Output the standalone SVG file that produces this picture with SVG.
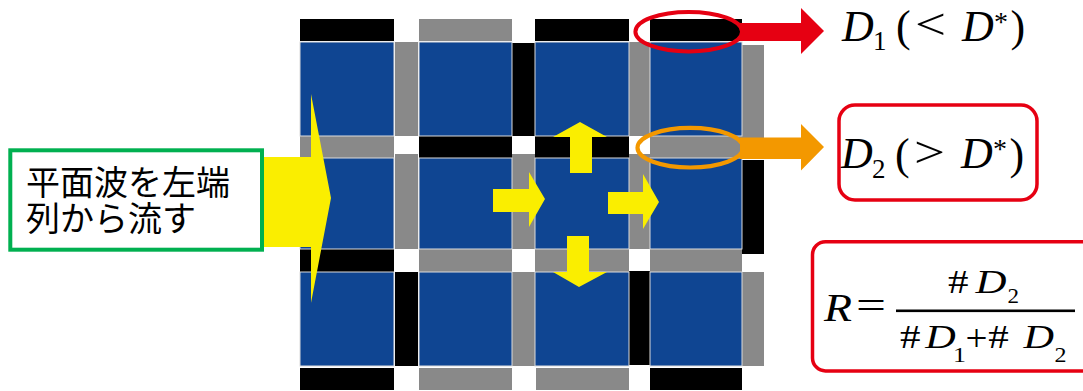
<svg xmlns="http://www.w3.org/2000/svg" width="1083" height="391" viewBox="0 0 1083 391">
<defs>
<style>
.cell{fill:#0f4592;stroke:#dcdcdc;stroke-width:1}
.bk{fill:#000}
.gy{fill:#898989}
.yl{fill:#faee00}
.m{font-family:"Liberation Serif","Times New Roman",serif;fill:#000}
.i{font-style:italic}
.jp{font-family:"Noto Sans CJK JP","Noto Sans",sans-serif;font-size:34px;fill:#000}
</style>
</defs>
<rect width="1083" height="391" fill="#fff"/>
<g id="grid">
  <rect class="bk" x="300" y="19" width="94" height="22"/>
  <rect class="gy" x="419" y="19" width="93" height="22"/>
  <rect class="bk" x="535" y="19" width="94" height="22"/>
  <rect class="bk" x="650" y="19" width="92" height="22"/>
  <rect class="gy" x="300" y="136" width="94" height="22"/>
  <rect class="bk" x="419" y="136" width="93" height="22"/>
  <rect class="bk" x="535" y="136" width="94" height="22"/>
  <rect class="gy" x="650" y="136" width="92" height="22"/>
  <rect class="bk" x="300" y="249" width="94" height="23"/>
  <rect class="gy" x="419" y="249" width="93" height="23"/>
  <rect class="gy" x="535" y="249" width="94" height="23"/>
  <rect class="gy" x="650" y="249" width="92" height="23"/>
  <rect class="bk" x="300" y="368" width="94" height="22"/>
  <rect class="gy" x="419" y="368" width="93" height="22"/>
  <rect class="gy" x="536" y="368" width="93" height="22"/>
  <rect class="bk" x="650" y="368" width="92" height="22"/>
  <rect class="gy" x="395" y="42" width="23" height="94"/>
  <rect class="bk" x="512" y="43" width="23" height="93"/>
  <rect class="gy" x="629" y="42" width="21" height="94"/>
  <rect class="gy" x="742" y="45" width="22" height="93"/>
  <rect class="gy" x="395" y="154" width="23" height="95"/>
  <rect class="gy" x="512" y="154" width="23" height="95"/>
  <rect class="gy" x="629" y="154" width="21" height="95"/>
  <rect class="bk" x="742" y="160" width="22" height="94"/>
  <rect class="bk" x="395" y="272" width="23" height="94"/>
  <rect class="gy" x="512" y="272" width="23" height="94"/>
  <rect class="bk" x="629" y="271" width="21" height="94"/>
  <rect class="gy" x="742" y="272" width="22" height="94"/>
  <rect class="cell" x="300" y="42" width="94" height="94"/>
  <rect class="cell" x="419" y="42" width="93" height="94"/>
  <rect class="cell" x="535" y="42" width="94" height="94"/>
  <rect class="cell" x="650" y="42" width="92" height="94"/>
  <rect class="cell" x="300" y="158" width="94" height="91"/>
  <rect class="cell" x="419" y="158" width="93" height="91"/>
  <rect class="cell" x="535" y="158" width="94" height="91"/>
  <rect class="cell" x="650" y="158" width="92" height="91"/>
  <rect class="cell" x="300" y="272" width="94" height="94"/>
  <rect class="cell" x="419" y="272" width="93" height="94"/>
  <rect class="cell" x="535" y="272" width="94" height="94"/>
  <rect class="cell" x="650" y="272" width="92" height="94"/>
</g>
<g id="connectors">
  <polygon class="yl" points="570,173 570,137 553,137 580,122 607,137 592,137 592,173"/>
  <polygon class="yl" points="567,236 589,236 589,272 607,272 579,287 553,272 567,272"/>
  <polygon class="yl" points="493,189 529,189 529,172 545,199 529,227 529,212 493,212"/>
  <polygon class="yl" points="608,192 643,192 643,174 659,202 643,229 643,214 608,214"/>
  <polygon class="yl" points="250,157 311,157 311,94 331,198 311,303 311,247 250,247"/>
  <polygon fill="#e60012" points="740,23 801,23 801,8 824,31 801,54 801,41 740,41"/>
  <polygon fill="#f39800" points="740,137.5 801,137.5 801,124 824,147 801,170.5 801,159 740,159"/>
  <ellipse cx="688.7" cy="31.7" rx="53.3" ry="19.8" fill="none" stroke="#e60012" stroke-width="4"/>
  <ellipse cx="690.3" cy="147.7" rx="52.8" ry="19.8" fill="none" stroke="#f39800" stroke-width="4.2"/>
</g>
<g id="source-box">
  <rect x="10.3" y="150.3" width="251.7" height="99.4" fill="#fff" stroke="#00b050" stroke-width="4"/>
  <text class="jp"><tspan x="26" y="195">平面波を左端</tspan><tspan x="26" y="231">列から流す</tspan></text>
</g>
<g id="label-d1" class="m">
  <text font-size="44"><tspan class="i" x="842" y="40.7">D</tspan><tspan x="873" y="50" font-size="27">1</tspan><tspan x="896" y="41">(</tspan><tspan x="915" y="39" textLength="31" lengthAdjust="spacingAndGlyphs">&lt;</tspan><tspan class="i" x="962" y="40.7">D</tspan><tspan x="994" y="30.6" font-size="28">*</tspan><tspan x="1010.4" y="41">)</tspan></text>
</g>
<g id="label-d2" class="m">
  <rect x="839" y="105" width="198" height="95" rx="16" fill="none" stroke="#e60012" stroke-width="3.5"/>
  <text font-size="44"><tspan class="i" x="841" y="168.3">D</tspan><tspan x="872" y="177.6" font-size="27">2</tspan><tspan x="895" y="168.6">(</tspan><tspan x="914" y="166.6" textLength="31" lengthAdjust="spacingAndGlyphs">&gt;</tspan><tspan class="i" x="961" y="168.3">D</tspan><tspan x="993" y="158.2" font-size="28">*</tspan><tspan x="1009.4" y="168.6">)</tspan></text>
</g>
<g id="formula" class="m">
  <rect x="812.5" y="241.8" width="290" height="129.1" rx="13" fill="none" stroke="#e60012" stroke-width="3.5"/>
  <text font-size="41"><tspan class="i" x="824" y="320.7" textLength="28" lengthAdjust="spacingAndGlyphs">R</tspan><tspan x="856" y="318.5" textLength="30" lengthAdjust="spacingAndGlyphs">=</tspan></text>
  <rect x="896" y="309.5" width="179" height="2.6" fill="#000"/>
  <text font-size="33"><tspan x="948" y="293.3" textLength="20.5" lengthAdjust="spacingAndGlyphs">#</tspan><tspan class="i" x="975.5" y="293.3" textLength="31" lengthAdjust="spacingAndGlyphs">D</tspan><tspan x="1007.5" y="302.5" font-size="21" textLength="11.5" lengthAdjust="spacingAndGlyphs">2</tspan></text>
  <text font-size="33"><tspan x="900" y="348.3" textLength="20.5" lengthAdjust="spacingAndGlyphs">#</tspan><tspan class="i" x="925.3" y="348.3" textLength="30.5" lengthAdjust="spacingAndGlyphs">D</tspan><tspan x="953" y="361.5" font-size="21" textLength="13" lengthAdjust="spacingAndGlyphs">1</tspan><tspan x="965.5" y="350.5" font-size="38" textLength="22" lengthAdjust="spacingAndGlyphs">+</tspan><tspan x="988.3" y="348.3" textLength="20.5" lengthAdjust="spacingAndGlyphs">#</tspan><tspan class="i" x="1023.5" y="348.3" textLength="30.5" lengthAdjust="spacingAndGlyphs">D</tspan><tspan x="1054.5" y="361.5" font-size="21" textLength="12" lengthAdjust="spacingAndGlyphs">2</tspan></text>
</g>
</svg>
